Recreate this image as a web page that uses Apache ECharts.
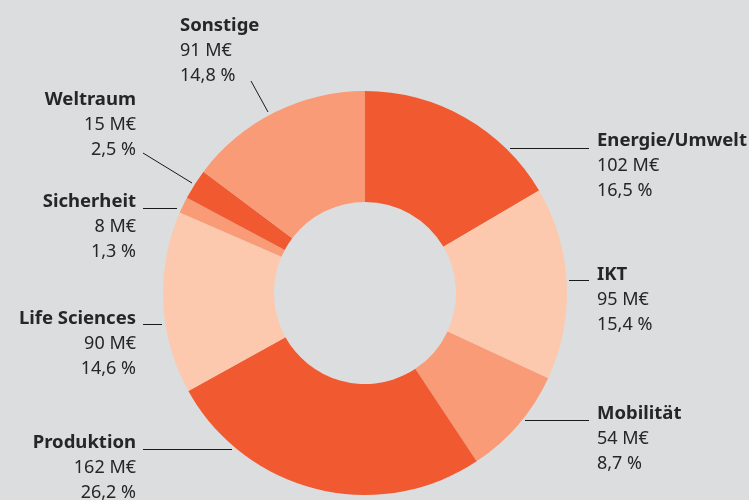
<!DOCTYPE html>
<html>
<head>
    <meta charset="utf-8">
    <title>Fördervolumen nach Themen</title>
    <script src="https://cdn.jsdelivr.net/npm/echarts@6/dist/echarts.min.js"></script>
    <style>
        html, body { margin: 0; padding: 0; background: #dcdddf; }
        #chart { width: 749px; height: 500px; }
    </style>
</head>
<body>
<div id="chart"></div>
<script>
    // Daten, im Uhrzeigersinn ab 12 Uhr
    var names = ['Energie/Umwelt', 'IKT', 'Mobilität', 'Produktion', 'Life Sciences', 'Sicherheit', 'Weltraum', 'Sonstige'];
    var values = [102, 95, 54, 162, 90, 8, 15, 91];
    var percents = ['16,5', '15,4', '8,7', '26,2', '14,6', '1,3', '2,5', '14,8'];
    var colors = ['#f15a30', '#fcc9ae', '#f89b76', '#f15a30', '#fcc9ae', '#f89b76', '#f15a30', '#f89b76'];

    // Beschriftungen: Lage des Textblocks und der Führungslinie
    var labelPos = [
        {x: 597, y: 128, align: 'left',  line: [[510, 148.5], [589, 148.5]]},
        {x: 597, y: 262, align: 'left',  line: [[569, 280.5], [589, 280.5]]},
        {x: 597, y: 401, align: 'left',  line: [[525, 420.5], [589, 420.5]]},
        {x: 136, y: 430, align: 'right', line: [[232, 449.5], [143, 449.5]]},
        {x: 136, y: 306, align: 'right', line: [[162, 324.5], [143, 324.5]]},
        {x: 136, y: 189, align: 'right', line: [[177, 208.5], [143, 208.5]]},
        {x: 136, y: 87,  align: 'right', line: [[192, 183], [143, 153]]},
        {x: 180, y: 13,  align: 'left',  line: [[268, 112], [251, 81]]}
    ];

    var chart = echarts.init(document.getElementById('chart'));

    var data = [];
    for (var i = 0; i < names.length; i++) {
        data.push({
            name: names[i],
            value: values[i],
            itemStyle: { color: colors[i] },
            label: { align: labelPos[i].align }
        });
    }

    var option = {
        backgroundColor: '#dcdddf',
        animation: false,
        series: [{
            type: 'pie',
            center: [365, 293],
            radius: [91, 202],
            startAngle: 90,
            clockwise: true,
            silent: true,
            data: data,
            label: {
                show: true,
                overflow: 'none',
                fontFamily: 'Noto Sans',
                color: '#262626',
                formatter: function (p) {
                    return '{n|' + p.name + '}\n{v|' + p.value + ' M€}\n{v|' + percents[p.dataIndex] + ' %}';
                },
                rich: {
                    n: { fontFamily: 'Noto Sans', fontWeight: 'bold', fontSize: 18.5, lineHeight: 25, color: '#262626' },
                    v: { fontFamily: 'Noto Sans', fontSize: 18, lineHeight: 25, color: '#262626' }
                }
            },
            labelLine: {
                show: true,
                lineStyle: { color: '#1a1a1a', width: 1 }
            },
            labelLayout: function (params) {
                var p = labelPos[params.dataIndex];
                return {
                    x: p.x,
                    y: p.y,
                    align: p.align,
                    verticalAlign: 'top',
                    labelLinePoints: p.line
                };
            }
        }]
    };
    chart.setOption(option);
</script>
</body>
</html>
